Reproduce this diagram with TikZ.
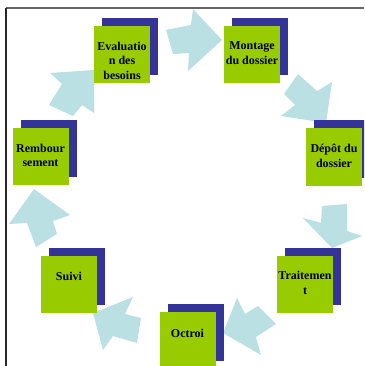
\documentclass[tikz,border=0pt]{standalone}
\usepackage{fontspec}
\setmainfont{Liberation Serif}
\usetikzlibrary{positioning,shadows}
\definecolor{stepgreen}{HTML}{99CC00}
\definecolor{stepblue}{HTML}{333399}
\definecolor{flowblue}{HTML}{BBE0E4}

\begin{document}
\begin{tikzpicture}[x=1pt, y=-1pt]
		\tikzstyle{stepbox} = [rectangle, fill=stepgreen, minimum width=56pt,
		minimum height=57pt, inner sep=0pt, general shadow={fill=stepblue,
		shadow xshift=8pt, shadow yshift=8pt}]
		\tikzstyle{steptext} = [inner sep=0pt, align=center,
		font=\fontsize{12}{14.5}\selectfont\bfseries]
		\tikzstyle{flow} = [fill=flowblue]
		\useasboundingbox (0,0) rectangle (364,366);
		\clip (0,0) rectangle (364,366);
		\fill[flow] (166,30) -- (191,25) -- (193,9) -- (222,40) -- (188,71)
		-- (189,53) -- (173,54) -- cycle;
		\fill[flow] (298,74) -- (317,91) -- (332,82) -- (326,123) -- (281,116)
		-- (295,105) -- (284,94) -- cycle;
		\fill[flow] (322,206) -- (347,204) -- (347,231) -- (362,236) -- (332,248)
		-- (303,218) -- (321,223) -- cycle;
		\fill[flow] (258,306) -- (245,314) -- (237,298) -- (223,333) -- (261,355)
		-- (256,337) -- (276,324) -- cycle;
		\fill[flow] (141,318) -- (125,314) -- (133,297) -- (93,313) -- (103,350)
		-- (113,336) -- (137,343) -- cycle;
		\fill[flow] (57,234) -- (53,221) -- (70,215) -- (34,189) -- (9,224)
		-- (27,223) -- (36,247) -- cycle;
		\fill[flow] (73,116) -- (82,105) -- (94,113) -- (94,70) -- (50,73)
		-- (62,84) -- (49,105) -- cycle;
		\node[stepbox] (eval) at (122,54.5) {};
		\node[stepbox] (montage) at (252,54.5) {};
		\node[stepbox] (depot) at (334,157) {};
		\node[stepbox] (traitement) at (305,284) {};
		\node[stepbox] (octroi) at (187.5,340.5) {};
		\node[stepbox] (suivi) at (69,284.5) {};
		\node[stepbox] (rembour) at (40.5,156.5) {};
		\node[steptext, below=16pt of eval.north] (evaltxt) {Evaluatio\\n des\\besoins};
		\node[steptext, below=16pt of montage.north] (montagetxt) {Montage\\du dossier};
		\node[steptext, below=16pt of depot.north] (depottxt) {Dépôt du\\dossier};
		\node[steptext, below=16pt of traitement.north] (traitementtxt) {Traitemen\\t};
		\node[steptext, below=17pt of octroi.north] (octroitxt) {Octroi};
		\node[steptext, below=16pt of suivi.north] (suivitxt) {Suivi};
		\node[steptext, below=16pt of rembour.north] (rembourtxt) {Rembour\\sement};
		\draw[black!60, line width=1.5pt] (6,8) -- (364,8);
		\draw[black!85, line width=1.5pt] (6,8) -- (6,366);
	\end{tikzpicture}
\end{document}
